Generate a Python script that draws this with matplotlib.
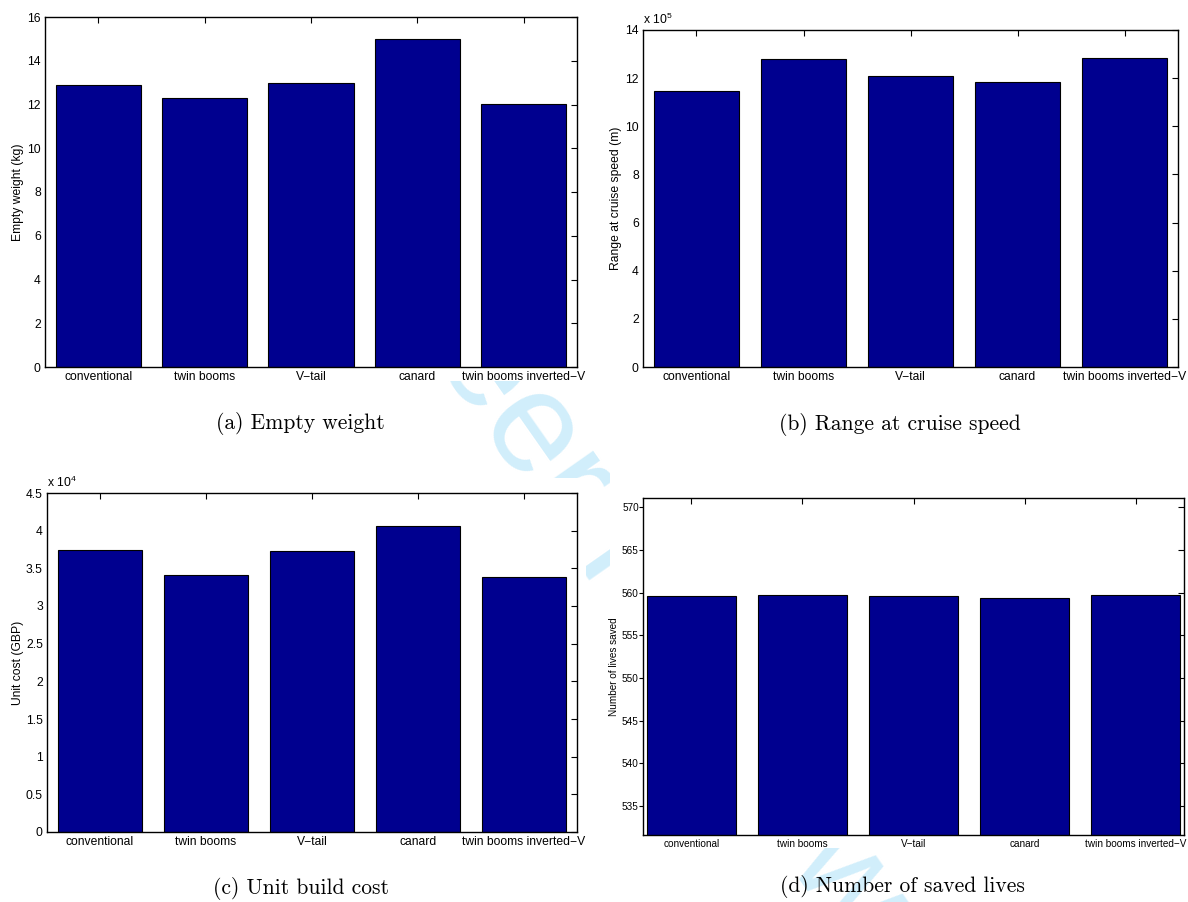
import numpy as np
import matplotlib
matplotlib.use("Agg")
import matplotlib.pyplot as plt
from matplotlib.patches import Rectangle
from matplotlib.ticker import FuncFormatter

plt.rcParams['font.family'] = ['Liberation Sans', 'DejaVu Sans']
plt.rcParams['mathtext.fontset'] = 'custom'
plt.rcParams['mathtext.rm'] = 'Liberation Sans'
plt.rcParams['axes.linewidth'] = 1.0

# aircraft configurations compared in every panel
configs = ['conventional', 'twin booms', 'V\u2212tail', 'canard',
           'twin booms inverted\u2212V']

empty_weight = [12.88, 12.32, 13.0, 14.99, 12.03]          # kg
cruise_range = [11.47e5, 12.80e5, 12.09e5, 11.83e5, 12.84e5]  # m
unit_cost = [3.743e4, 3.41e4, 3.734e4, 4.06e4, 3.384e4]      # GBP
lives_saved = [559.62, 559.70, 559.62, 559.39, 559.70]

W, H = 1188, 902
BAR = '#00008f'

fig = plt.figure(figsize=(W / 100, H / 100), dpi=100)


def px_rect(x0, y0, x1, y1):
    # pixel box (top-left origin) -> figure fraction rect
    return [x0 / W, 1 - y1 / H, (x1 - x0) / W, (y1 - y0) / H]


# review watermark, hidden behind the panels except in the gaps
fig.text(568 / W, 1 - 485 / H, 'For Peer Review', rotation=-55,
         ha='center', va='center', fontsize=104, color='#d1eefb',
         zorder=-10)
for box in [(0, 0, 598, 381), (604, 0, 1188, 381),
            (0, 478, 586, 848), (610, 470, 1188, 848)]:
    r = px_rect(*box)
    fig.add_artist(Rectangle(r[:2], r[2], r[3], transform=fig.transFigure,
                             facecolor='white', edgecolor='none', zorder=-5))


def panel(box, values, ylabel, ylim, yticks, scale=1, power=None,
          fs=8.7, xlim=(0.5, 5.5), label_x=-0.039, left_out=False):
    ax = fig.add_axes(px_rect(*box))
    x = np.arange(1, 6)
    ax.bar(x, values, width=0.8, color=BAR, edgecolor='black', linewidth=0.8)
    ax.set_axisbelow(True)
    ax.set_xlim(*xlim)
    ax.set_ylim(*ylim)
    ax.set_xticks(x)
    ax.set_xticklabels(configs, fontsize=fs)
    ax.set_yticks(yticks)
    ax.yaxis.set_major_formatter(FuncFormatter(lambda v, p: f'{v / scale:g}'))
    ax.tick_params(axis='x', direction='in', top=True, length=4.5, width=0.8,
                   pad=3)
    ax.tick_params(axis='y', direction='in', right=True, left=False,
                   length=4.5, width=0.8, labelsize=fs, pad=3)
    if left_out:
        ax.tick_params(axis='y', which='major', left=True)
        for t in ax.yaxis.get_major_ticks():
            t.tick1line.set_markersize(3)
            t.tick1line.set_marker(matplotlib.lines.TICKLEFT)
    ax.set_ylabel(ylabel, fontsize=fs)
    ax.yaxis.set_label_coords(label_x, 0.5)
    if power is not None:
        ax.text(0, 1.018, 'x 10$^{%d}$' % power, transform=ax.transAxes,
                ha='left', va='baseline', fontsize=fs)
    return ax


panel((45, 17, 577, 367), empty_weight, 'Empty weight (kg)', (0, 16),
      np.arange(0, 17, 2))
panel((643, 30, 1178, 367), cruise_range, 'Range at cruise speed (m)',
      (0, 14e5), np.arange(0, 15, 2) * 1e5, scale=1e5, power=5)
panel((47, 493, 577, 832), unit_cost, 'Unit cost (GBP)', (0, 4.5e4),
      np.arange(0, 4.6, 0.5) * 1e4, scale=1e4, power=4, label_x=-0.043)
panel((643, 498, 1184, 835), lives_saved, 'Number of lives saved',
      (531.6, 571.1), np.arange(535, 571, 5), fs=7.2, xlim=(0.565, 5.435),
      label_x=-0.044, left_out=True)

# sub-figure captions
cap = dict(family='cmr10', fontsize=15.5, ha='center', va='center')
fig.text(300 / W, 1 - 423 / H, '(a) Empty weight', **cap)
fig.text(900 / W, 1 - 424 / H, '(b) Range at cruise speed', **cap)
fig.text(301 / W, 1 - 888 / H, '(c) Unit build cost', **cap)
fig.text(902 / W, 1 - 887 / H, '(d) Number of saved lives', **cap)

fig.savefig('out.png', dpi=100)
